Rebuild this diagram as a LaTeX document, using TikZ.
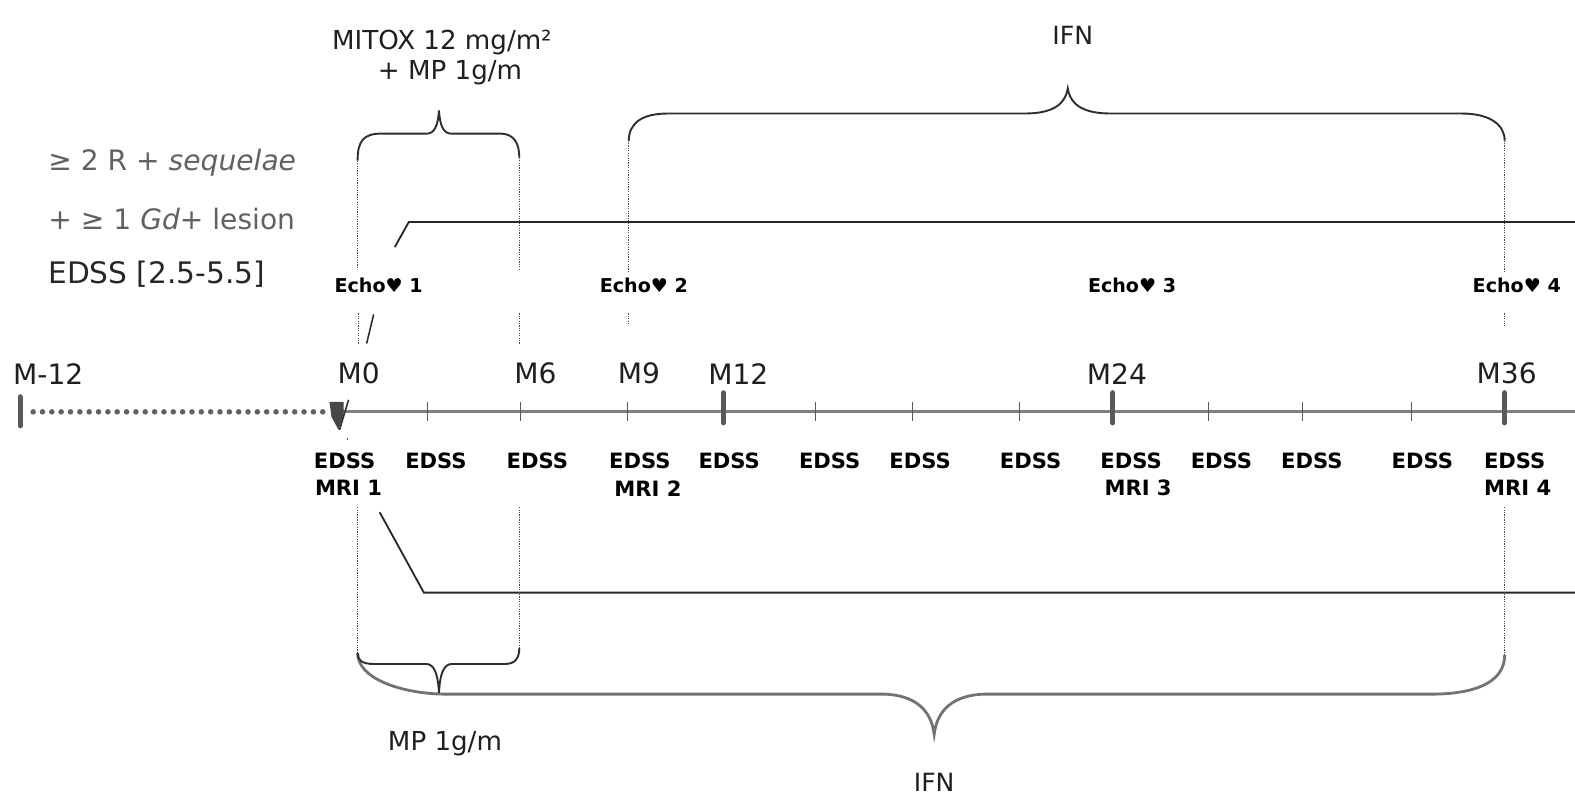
\documentclass[tikz,border=0pt]{standalone}
\usepackage{fontspec}
\setmainfont{DejaVu Sans}
\begin{document}
\begin{tikzpicture}[x=1pt,y=-1pt,
  mlabel/.style={font=\fontsize{28}{30}\selectfont, text=black!88, inner sep=0pt},
  echolbl/.style={font=\bfseries\fontsize{19}{21}\selectfont, inner sep=0pt},
  edss/.style={font=\bfseries\fontsize{21}{23}\selectfont, inner sep=0pt},
  crit/.style={font=\fontsize{28}{30}\selectfont, text=black!62, anchor=west, inner sep=0pt},
  drug/.style={font=\fontsize{26}{28}\selectfont, text=black!88, inner sep=0pt},
  mtick/.style={line width=1.1pt, draw=black!65},
  bigtick/.style={line width=5pt, draw=black!65, line cap=round},
  axisline/.style={line width=3pt, draw=black!50},
  dotline/.style={line width=5.5pt, draw=black!62, line cap=round, dash pattern=on 0pt off 9.3pt},
  guide/.style={draw=black!72, line width=1pt, dash pattern=on 1.2pt off 1.2pt},
  brace/.style={draw=black!82, line width=1.9pt},
  graybrace/.style={draw=black!55, line width=2.8pt},
  arm/.style={draw=black!85, line width=1.8pt}]
\useasboundingbox (0,0) rectangle (1568,804);

% ---- axis ----
\coordinate (dotS) at (33,410);
\coordinate (dotE) at (326,410);
\coordinate (axS) at (340,410);
\coordinate (axE) at (1568,410);
\draw[dotline] (dotS) -- (dotE);
\draw[axisline] (axS) -- (axE);
\draw[bigtick] (20,395) -- (20,424);
\foreach \x in {426,518,625,812,908,1015,1203,1297,1405}
  \draw[mtick] (\x,400) -- (\x,419);
\foreach \x in {720,1108,1498}
  \draw[bigtick] (\x,391) -- (\x,421);
% M0 marker
\fill[black!72] (328,400) -- (342,400) -- (342,413) -- (337,428) -- (330,415) -- cycle;
\draw[line width=1.6pt, black!80] (347,398) -- (338,428);
\fill[black!70] (346,437) circle (0.9);

% ---- month labels ----
\node[mlabel] (lm12) at (48,372) {M-12};
\node[mlabel] (lm0)  at (357,372) {M0};
\node[mlabel] (lm6)  at (533,372) {M6};
\node[mlabel] (lm9)  at (636,372) {M9};
\node[mlabel] (lm12b) at (735,372) {M12};
\node[mlabel] (lm24) at (1112,372) {M24};
\node[mlabel] (lm36) at (1500,372) {M36};

% ---- echo labels ----
\node[echolbl] (e1) at (377,284) {Echo♥ 1};
\node[echolbl] (e2) at (641,284) {Echo♥ 2};
\node[echolbl] (e3) at (1127,284) {Echo♥ 3};
\node[echolbl] (e4) at (1510,284) {Echo♥ 4};

% ---- EDSS / MRI ----
\foreach \x [count=\i] in {343,434,535,637,726,826,916,1026,1126,1216,1306,1416,1508}
  \node[edss] (ed\i) at (\x,459) {EDSS};
\node[edss] (mri1) at (347,486) {MRI 1};
\node[edss] (mri2) at (645,486) {MRI 2};
\node[edss] (mri3) at (1133,486) {MRI 3};
\node[edss] (mri4) at (1511,486) {MRI 4};

% ---- criteria ----
\node[crit] (c1) at (48,162) {≥ 2 R + \textit{sequelae}};
\node[crit] (c2) at (48,218) {+ ≥ 1 \textit{Gd+} lesion};
\node[crit, text=black!85, font=\fontsize{29.5}{31}\selectfont] (c3) at (48,273) {EDSS [2.5-5.5]};

% ---- short marks ----
\draw[guide] (357,312) -- (357,342);
\draw[line width=1.5pt, black!85] (372,313) -- (365,342);
\draw[guide] (517,312) -- (517,342);
\draw[guide] (626,312) -- (626,323);
\draw[guide] (1498,312) -- (1498,325);

% ---- top treatment ----
\node[drug] (mitox) at (440,42) {MITOX 12 mg/m²};
\node[drug] (mp1) at (448,72) {+ MP 1g/m};
\node[drug, font=\fontsize{25}{27}\selectfont] (ifn1) at (1068,35) {IFN};

\coordinate (tbL) at (356,160);
\coordinate (tbR) at (517,157);
\draw[brace] (tbL) .. controls (356,140) and (362,133) .. (380,133) -- (425,133)
  .. controls (432,133) and (436,126) .. (437,110)
  .. controls (438,126) and (442,133) .. (449,133) -- (498,133)
  .. controls (512,133) and (517,143) .. (tbR);
\draw[guide] (tbL) -- (356,268);
\draw[guide] (tbR) -- (517,268);

\coordinate (ibL) at (626,140);
\coordinate (ibR) at (1498,140);
\draw[brace] (ibL) .. controls (626,122) and (640,113) .. (665,113) -- (1020,113)
  .. controls (1045,113) and (1060,106) .. (1063,88)
  .. controls (1066,106) and (1081,113) .. (1106,113) -- (1455,113)
  .. controls (1483,113) and (1498,124) .. (ibR);
\draw[guide] (ibL) -- (626,272);
\draw[guide] (ibR) -- (1498,272);

\coordinate (armTs) at (393,246);
\coordinate (armTk) at (407,221);
\coordinate (armTe) at (1568,221);
\draw[arm] (armTs) -- (armTk) -- (armTe);

% ---- bottom treatment ----
\coordinate (armBs) at (378,510);
\coordinate (armBk) at (422,590);
\coordinate (armBe) at (1568,590);
\draw[arm] (armBs) -- (armBk) -- (armBe);

\coordinate (bbL) at (356,650);
\coordinate (bbR) at (517,645);
\coordinate (BbR) at (1498,652);
\draw[guide] (356,505) -- (bbL);
\draw[guide] (517,505) -- (bbR);
\draw[guide] (1498,505) -- (BbR);

\draw[graybrace] (bbL) .. controls (356,676) and (400,690) .. (440,691) -- (880,691)
  .. controls (910,692) and (927,706) .. (930,731)
  .. controls (933,706) and (950,692) .. (980,691) -- (1430,691)
  .. controls (1475,690) and (1498,676) .. (BbR);
\draw[brace] (bbL) .. controls (356,657) and (360,661) .. (372,661) -- (424,661)
  .. controls (432,661) and (436,670) .. (437,690)
  .. controls (438,670) and (442,661) .. (450,661) -- (503,661)
  .. controls (513,661) and (517,655) .. (bbR);

\node[drug] (mp2) at (443,740) {MP 1g/m};
\node[drug, font=\fontsize{25}{27}\selectfont] (ifn2) at (930,779) {IFN};
\end{tikzpicture}
\end{document}
